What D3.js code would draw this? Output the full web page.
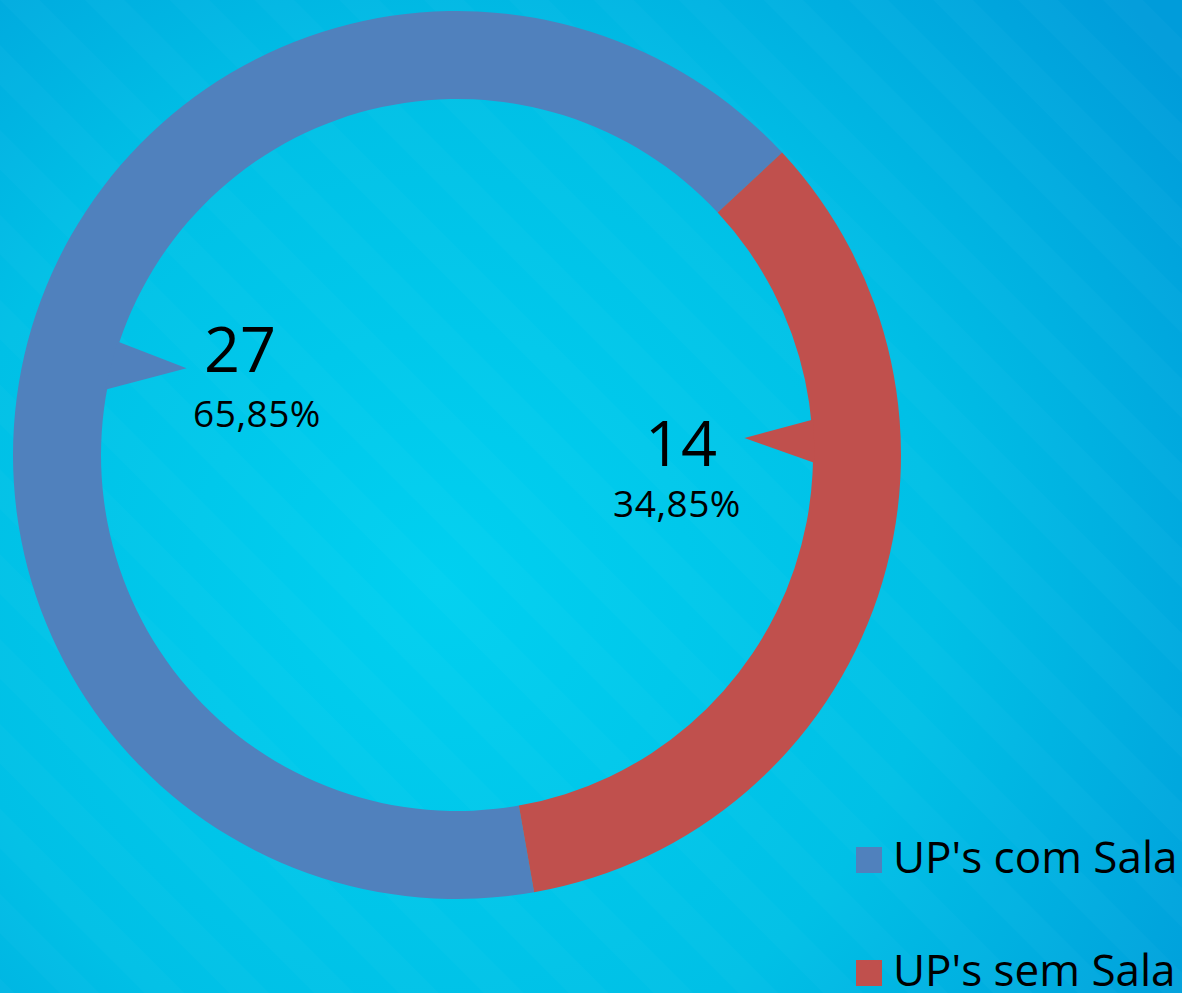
<!DOCTYPE html>
<html>
<head>
<meta charset="utf-8">
<script src="https://cdn.jsdelivr.net/npm/d3@7"></script>
<style>
  html, body { margin: 0; padding: 0; overflow: hidden; }
  svg { display: block; }
  text { font-family: "Open Sans", "Noto Sans", sans-serif; fill: #000; }
</style>
</head>
<body>
<svg id="chart" width="1182" height="993"></svg>
<script>
// data
const categories = ["UP's com Sala", "UP's sem Sala"];
const values = [27, 14];
const percentLabels = ["65,85%", "34,85%"];
const colors = ["#5081BD", "#C0504D"];

const width = 1182, height = 993;
const cx = 457, cy = 455;
const outerR = 444, innerR = 356;
const startDeg = 170;

const svg = d3.select("#chart");
const defs = svg.append("defs");

// background gradient
const grad = defs.append("radialGradient")
  .attr("id", "bg")
  .attr("gradientUnits", "userSpaceOnUse")
  .attr("cx", 440).attr("cy", 580).attr("r", 900);
grad.append("stop").attr("offset", "0").attr("stop-color", "#00D0F0");
grad.append("stop").attr("offset", "0.55").attr("stop-color", "#00C0E6");
grad.append("stop").attr("offset", "1").attr("stop-color", "#009CDA");

const pat = defs.append("pattern")
  .attr("id", "stripes")
  .attr("patternUnits", "userSpaceOnUse")
  .attr("width", 60).attr("height", 60)
  .attr("patternTransform", "rotate(-45)");
pat.append("rect").attr("width", 28).attr("height", 60)
  .attr("fill", "#ffffff").attr("opacity", 0.018);

svg.append("rect").attr("width", width).attr("height", height).attr("fill", "url(#bg)");
svg.append("rect").attr("width", width).attr("height", height).attr("fill", "url(#stripes)");

// donut
const pie = d3.pie().sort(null)
  .startAngle(startDeg * Math.PI / 180)
  .endAngle((startDeg + 360) * Math.PI / 180);
const arcs = pie(values);
const arc = d3.arc().innerRadius(innerR).outerRadius(outerR);

const g = svg.append("g").attr("transform", `translate(${cx},${cy})`);
g.selectAll("path.slice")
  .data(arcs)
  .enter().append("path")
  .attr("class", "slice")
  .attr("d", arc)
  .attr("fill", (d, i) => colors[i]);

// callout pointers (angle of base, half width in degrees, apex radius, apex angle)
const callouts = [
  { base: 284.5, half: 4, apexR: 284, apexA: 287.8 },
  { base: 87.8, half: 3.5, apexR: 288, apexA: 86.6 }
];
const polar = (r, deg) => {
  const a = deg * Math.PI / 180;
  return [r * Math.sin(a), -r * Math.cos(a)];
};
g.selectAll("path.pointer")
  .data(callouts)
  .enter().append("path")
  .attr("class", "pointer")
  .attr("d", c => {
    const p1 = polar(innerR + 2, c.base - c.half);
    const p2 = polar(c.apexR, c.apexA);
    const p3 = polar(innerR + 2, c.base + c.half);
    return `M${p1}L${p2}L${p3}Z`;
  })
  .attr("fill", (d, i) => colors[i]);

// labels
const labelPos = [
  { x: 240, y: 372, px: 257, py: 427 },
  { x: 681, y: 466, px: 677, py: 517 }
];
labelPos.forEach((p, i) => {
  svg.append("text")
    .attr("x", p.x).attr("y", p.y)
    .attr("text-anchor", "middle")
    .attr("font-size", 63)
    .text(values[i]);
  svg.append("text")
    .attr("x", p.px).attr("y", p.py)
    .attr("text-anchor", "middle")
    .attr("font-size", 37)
    .attr("letter-spacing", 0.5)
    .text(percentLabels[i]);
});

// legend
const legend = svg.append("g").attr("transform", "translate(856,847)");
const items = legend.selectAll("g")
  .data(categories)
  .enter().append("g")
  .attr("transform", (d, i) => `translate(0,${i * 113})`);
items.append("rect")
  .attr("width", 26).attr("height", 26)
  .attr("fill", (d, i) => colors[i]);
items.append("text")
  .attr("x", 37).attr("y", 26)
  .attr("font-size", 44)
  .text(d => d);
</script>
</body>
</html>
